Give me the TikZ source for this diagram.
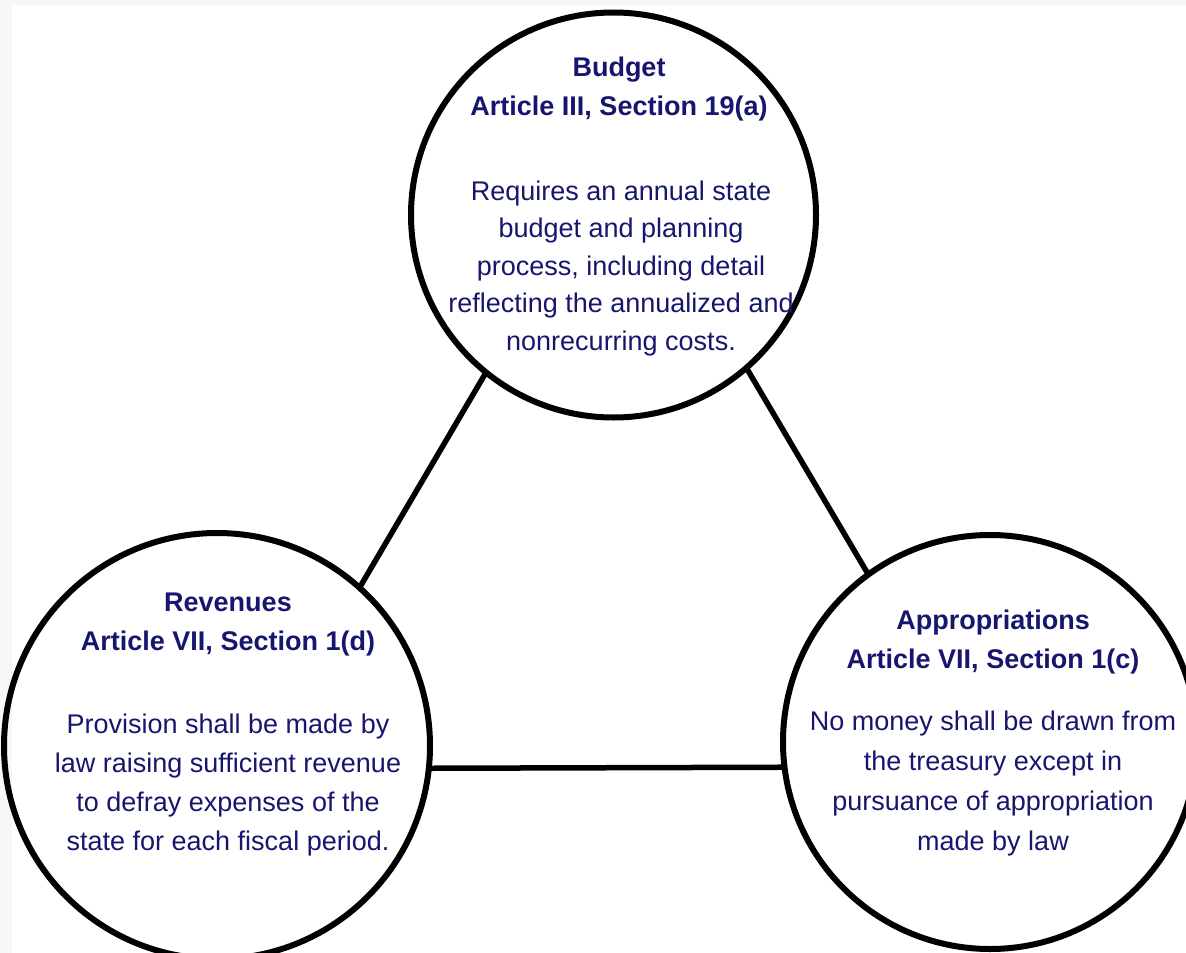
\documentclass[tikz,border=0pt]{standalone}
\usepackage{fontspec}
\setmainfont{Liberation Sans}
\definecolor{navy}{RGB}{22,22,110}
\tikzset{
  ring/.style={circle, draw=black, line width=6pt, inner sep=0pt, outer sep=0pt},
  link/.style={draw=black, line width=5.5pt},
  headtxt/.style={text=navy, align=center, anchor=base, inner sep=0pt, font=\bfseries\fontsize{27}{38.5}\selectfont},
  bodytxt/.style={text=navy, align=center, anchor=base, inner sep=0pt},
}
\begin{document}
\begin{tikzpicture}[x=1pt,y=-1pt]
\useasboundingbox (0,0) rectangle (1186,953);
\fill[gray!6] (0,0) rectangle (12,953);
\fill[gray!6] (12,0) rectangle (1186,5);
% circles
\node[ring, minimum size=405pt] (top) at (613.5,215) {};
\node[ring, minimum size=426pt] (left) at (217,746) {};
\node[ring, minimum size=414pt] (right) at (990,742) {};
% connectors
\draw[link] (top.231.2) -- (left.48.6);
\draw[link] (top.311.6) -- (right.126.6);
\draw[link] (left.-6.5) -- (right.187.8);
% texts (anchored at the baseline of the last line)
\node[headtxt] (toph) at (619,115) {Budget\\Article III, Section 19(a)};
\node[bodytxt, font=\fontsize{27}{37.5}\selectfont] (topb) at (621,350) {Requires an annual state\\budget and planning\\process, including detail\\reflecting the annualized and\\nonrecurring costs.};
\node[headtxt] (lefth) at (228,650) {Revenues\\Article VII, Section 1(d)};
\node[bodytxt, font=\fontsize{27}{39}\selectfont] (leftb) at (228,850) {Provision shall be made by\\law raising sufficient revenue\\to defray expenses of the\\state for each fiscal period.};
\node[headtxt] (righth) at (993,668) {Appropriations\\Article VII, Section 1(c)};
\node[bodytxt, font=\fontsize{27}{40}\selectfont] (rightb) at (993,850) {No money shall be drawn from\\the treasury except in\\pursuance of appropriation\\made by law};
\end{tikzpicture}
\end{document}
